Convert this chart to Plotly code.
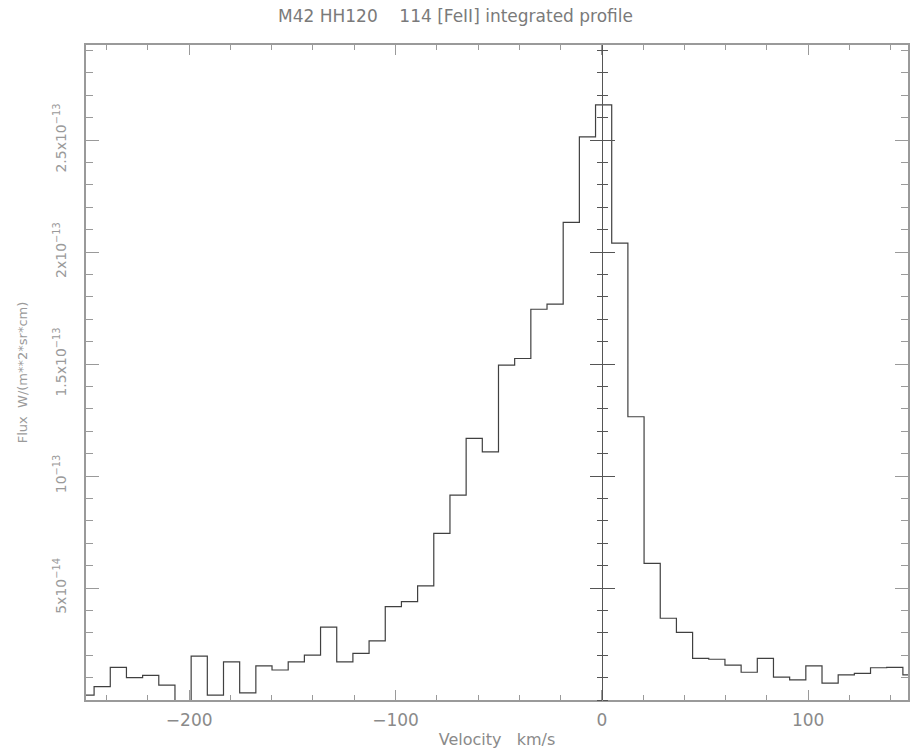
import plotly.graph_objects as go

# Velocity bins (km/s): centres of the spectral pixels
bin_width = 7.84
bin_first_centre = -250.0
# Integrated [FeII] flux per bin, in units of 1e-14
flux_e14 = [
    0.22, 0.60, 1.46, 1.00, 1.10, 0.66, -0.25, 1.96, 0.22, 1.70,
    0.32, 1.52, 1.34, 1.70, 2.00, 3.25, 1.70, 2.08, 2.64, 4.17,
    4.39, 5.10, 7.44, 9.15, 11.68, 11.08, 14.95, 15.25, 17.45, 17.68,
    21.33, 25.15, 26.58, 20.40, 12.65, 6.10, 3.65, 3.02, 1.86, 1.82,
    1.56, 1.24, 1.86, 1.02, 0.90, 1.52, 0.75, 1.12, 1.19, 1.44,
    1.46, 1.12,
]
velocity = [bin_first_centre + bin_width * i for i in range(len(flux_e14))]
flux = [v * 1e-14 for v in flux_e14]

x_range = [-250, 148.4]
y_range = [0, 2.925e-13]

y_tickvals = [5e-14, 1e-13, 1.5e-13, 2e-13, 2.5e-13]
y_ticktext = [
    "5x10<sup>\u221214</sup>",
    "10<sup>\u221213</sup>",
    "1.5x10<sup>\u221213</sup>",
    "2x10<sup>\u221213</sup>",
    "2.5x10<sup>\u221213</sup>",
]
x_tickvals = [-200, -100, 0, 100]

title_text = "M42 HH120\u00a0\u00a0\u00a0 114 [FeII] integrated profile"
x_title = "Velocity\u00a0\u00a0\u00a0km/s"
y_title = "Flux\u00a0\u00a0W/(m**2*sr*cm)"

frame_col = "#9a9a9a"
text_col = "#8a8a8a"
zero_col = "#555555"
font_family = "DejaVu Sans"

fig = go.Figure()
fig.add_trace(go.Scatter(
    x=velocity, y=flux, mode="lines", line_shape="hvh",
    line=dict(color="#404040", width=1.2), showlegend=False, hoverinfo="skip",
))
# invisible copies so the two zero-velocity axes are instantiated
for ax in ("y2", "y3"):
    fig.add_trace(go.Scatter(
        x=velocity, y=flux, yaxis=ax, mode="lines", line=dict(width=0),
        opacity=0, showlegend=False, hoverinfo="skip",
    ))

zero_pos = (0 - x_range[0]) / (x_range[1] - x_range[0])

common_y = dict(range=y_range, tickvals=y_tickvals, showgrid=False, zeroline=False)

fig.update_layout(
    width=911, height=751,
    margin=dict(l=86, r=1, t=45, b=51),
    paper_bgcolor="white", plot_bgcolor="white",
    font=dict(family=font_family, color=text_col, size=13),
    title=dict(text=title_text, x=0.5, xanchor="center", y=0.986, yanchor="top",
               font=dict(size=17, color="#7a7a7a", family=font_family)),
    xaxis=dict(
        range=x_range, tickvals=x_tickvals, showgrid=False, zeroline=False,
        showline=True, linecolor=frame_col, linewidth=1.5, mirror="ticks",
        ticks="inside", ticklen=10, tickcolor=frame_col, tickwidth=1,
        minor=dict(dtick=20, tick0=0, ticks="inside", ticklen=5, tickcolor=frame_col),
        tickfont=dict(size=17, color=text_col), ticklabelstandoff=4,
        title=dict(text=x_title, font=dict(size=16, color=text_col), standoff=5),
    ),
    yaxis=dict(
        **common_y, ticktext=y_ticktext, tickangle=-90,
        showline=True, linecolor=frame_col, linewidth=1.5, mirror="ticks",
        ticks="inside", ticklen=13, tickcolor=frame_col, tickwidth=1,
        minor=dict(dtick=1e-14, tick0=0, ticks="inside", ticklen=7, tickcolor=frame_col),
        tickfont=dict(size=14, color="#9a9a9a"), ticklabelstandoff=13,
        title=dict(text=y_title, font=dict(size=13, color="#9a9a9a"), standoff=20),
    ),
    yaxis2=dict(
        **common_y, overlaying="y", anchor="free", position=zero_pos, side="left",
        showline=True, linecolor=zero_col, linewidth=1.3, showticklabels=False,
        ticks="outside", ticklen=12, tickcolor=zero_col, tickwidth=1,
        minor=dict(dtick=1e-14, tick0=0, ticks="outside", ticklen=5, tickcolor=zero_col),
    ),
    yaxis3=dict(
        **common_y, overlaying="y", anchor="free", position=zero_pos, side="right",
        showline=False, showticklabels=False,
        ticks="outside", ticklen=12, tickcolor=zero_col, tickwidth=1,
        minor=dict(dtick=1e-14, tick0=0, ticks="outside", ticklen=5, tickcolor=zero_col),
    ),
)

fig.write_html("out.html")
